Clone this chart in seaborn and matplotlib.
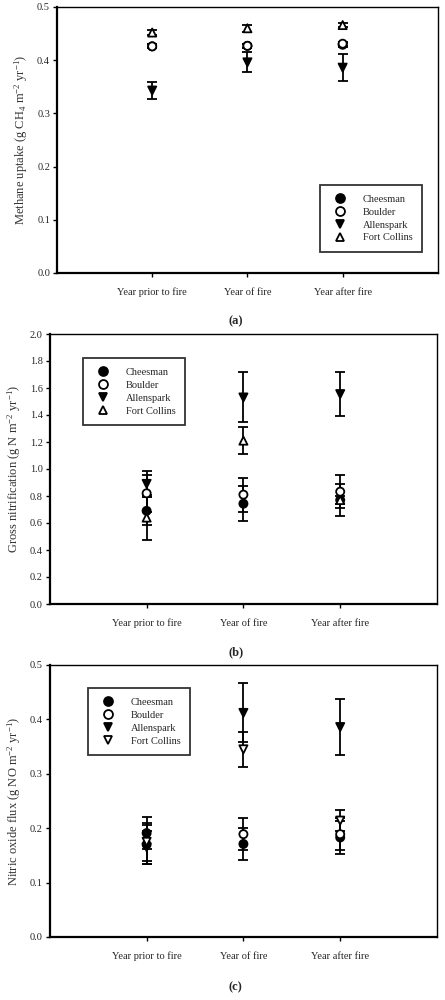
import matplotlib
matplotlib.use("Agg")
import matplotlib.pyplot as plt
import seaborn as sns
import pandas as pd

sns.set_style("white")
plt.rcParams['font.family'] = ['Liberation Serif', 'DejaVu Serif']
plt.rcParams['mathtext.fontset'] = 'custom'
plt.rcParams['mathtext.rm'] = 'Liberation Serif'
plt.rcParams['mathtext.it'] = 'Liberation Serif:italic'

periods = ["Year prior to fire", "Year of fire", "Year after fire"]
sites = ["Cheesman", "Boulder", "Allenspark", "Fort Collins"]

# (a) methane uptake
ch4_mean = {
    "Cheesman": [0.426, 0.427, 0.429],
    "Boulder": [0.426, 0.427, 0.431],
    "Allenspark": [0.343, 0.396, 0.386],
    "Fort Collins": [0.452, 0.460, 0.466],
}
ch4_err = {
    "Cheesman": [0.004, 0.004, 0.004],
    "Boulder": [0.004, 0.004, 0.004],
    "Allenspark": [0.016, 0.019, 0.026],
    "Fort Collins": [0.004, 0.007, 0.003],
}

# (b) gross nitrification
nit_mean = {
    "Cheesman": [0.69, 0.743, 0.77],
    "Boulder": [0.82, 0.81, 0.832],
    "Allenspark": [0.89, 1.53, 1.555],
    "Fort Collins": [0.64, 1.21, 0.77],
}
nit_err = {
    "Cheesman": [0.105, 0.13, 0.12],
    "Boulder": [0.135, 0.125, 0.12],
    "Allenspark": [0.095, 0.185, 0.16],
    "Fort Collins": [0.165, 0.10, 0.03],
}

# (c) nitric oxide flux
no_mean = {
    "Cheesman": [0.191, 0.171, 0.183],
    "Boulder": [0.170, 0.189, 0.189],
    "Allenspark": [0.165, 0.412, 0.386],
    "Fort Collins": [0.175, 0.345, 0.214],
}
no_err = {
    "Cheesman": [0.03, 0.03, 0.031],
    "Boulder": [0.035, 0.029, 0.029],
    "Allenspark": [0.03, 0.054, 0.052],
    "Fort Collins": [0.035, 0.032, 0.02],
}

fills = {"Cheesman": "black", "Boulder": "white", "Allenspark": "black", "Fort Collins": "white"}


def draw_panel(ax, means, errs, ylim, yticks, ylabel, fc_marker, legend_loc, legend_anchor, caption):
    rows = []
    for s in sites:
        for i, p in enumerate(periods):
            rows.append({"site": s, "x": i + 1, "y": means[s][i], "err": errs[s][i]})
    df = pd.DataFrame(rows)

    for s in sites:
        d = df[df["site"] == s]
        ax.errorbar(d["x"], d["y"], yerr=d["err"], fmt="none", ecolor="black",
                    elinewidth=1.3, capsize=3.8, capthick=1.3, zorder=2)

    markers = {"Cheesman": "o", "Boulder": "o", "Allenspark": "v", "Fort Collins": fc_marker}
    sns.scatterplot(data=df, x="x", y="y", hue="site", style="site", hue_order=sites,
                    style_order=sites, palette=fills, markers=markers, s=34,
                    edgecolor="black", linewidth=1.3, ax=ax, zorder=3)

    ax.set_xlim(0, 4)
    ax.set_ylim(*ylim)
    ax.set_yticks(yticks)
    ax.set_yticklabels([f"{t:.1f}" for t in yticks], fontsize=7.5)
    ax.set_xticks([1, 2, 3])
    ax.set_xticklabels(periods, fontsize=7.5)
    for lbl in ax.get_xticklabels():
        lbl.set_va("baseline")
    ax.set_xlabel("")
    ax.set_ylabel(ylabel, fontsize=9, color="#333333", labelpad=5)
    ax.tick_params(axis="both", direction="out", length=3, width=1, color="black",
                   bottom=True, left=True, pad=2)
    ax.tick_params(axis="x", pad=13)
    for side in ["left", "bottom"]:
        ax.spines[side].set_linewidth(1.6)
        ax.spines[side].set_color("black")
    for side in ["top", "right"]:
        ax.spines[side].set_linewidth(1.0)
        ax.spines[side].set_color("black")

    leg = ax.legend(loc=legend_loc, bbox_to_anchor=legend_anchor, fontsize=7.5, frameon=True,
                    fancybox=False, edgecolor="black", borderpad=0.9, labelspacing=0.35,
                    handletextpad=1.2, markerscale=1.1)
    leg.get_frame().set_linewidth(1.3)
    ax.figure.text(0.53, caption[1], caption[0], ha="center", va="center",
                   fontsize=9, fontweight="bold")


fig = plt.figure(figsize=(4.45, 10), dpi=100)
ax_a = fig.add_axes([0.128, 0.727, 0.856, 0.266])
ax_b = fig.add_axes([0.112, 0.396, 0.870, 0.270])
ax_c = fig.add_axes([0.112, 0.063, 0.870, 0.272])

draw_panel(ax_a, ch4_mean, ch4_err, (0, 0.5), [0.0, 0.1, 0.2, 0.3, 0.4, 0.5],
           r"Methane uptake (g CH$_4$ m$^{-2}$ yr$^{-1}$)", "^",
           "lower right", (0.972, 0.06), ("(a)", 0.679))
draw_panel(ax_b, nit_mean, nit_err, (0, 2.0), [0.0, 0.2, 0.4, 0.6, 0.8, 1.0, 1.2, 1.4, 1.6, 1.8, 2.0],
           r"Gross nitrification (g N m$^{-2}$ yr$^{-1}$)", "^",
           "upper left", (0.072, 0.93), ("(b)", 0.348))
draw_panel(ax_c, no_mean, no_err, (0, 0.5), [0.0, 0.1, 0.2, 0.3, 0.4, 0.5],
           r"Nitric oxide flux (g NO m$^{-2}$ yr$^{-1}$)", "v",
           "upper left", (0.085, 0.934), ("(c)", 0.013))

fig.savefig("out.png", dpi=100, facecolor="white")
